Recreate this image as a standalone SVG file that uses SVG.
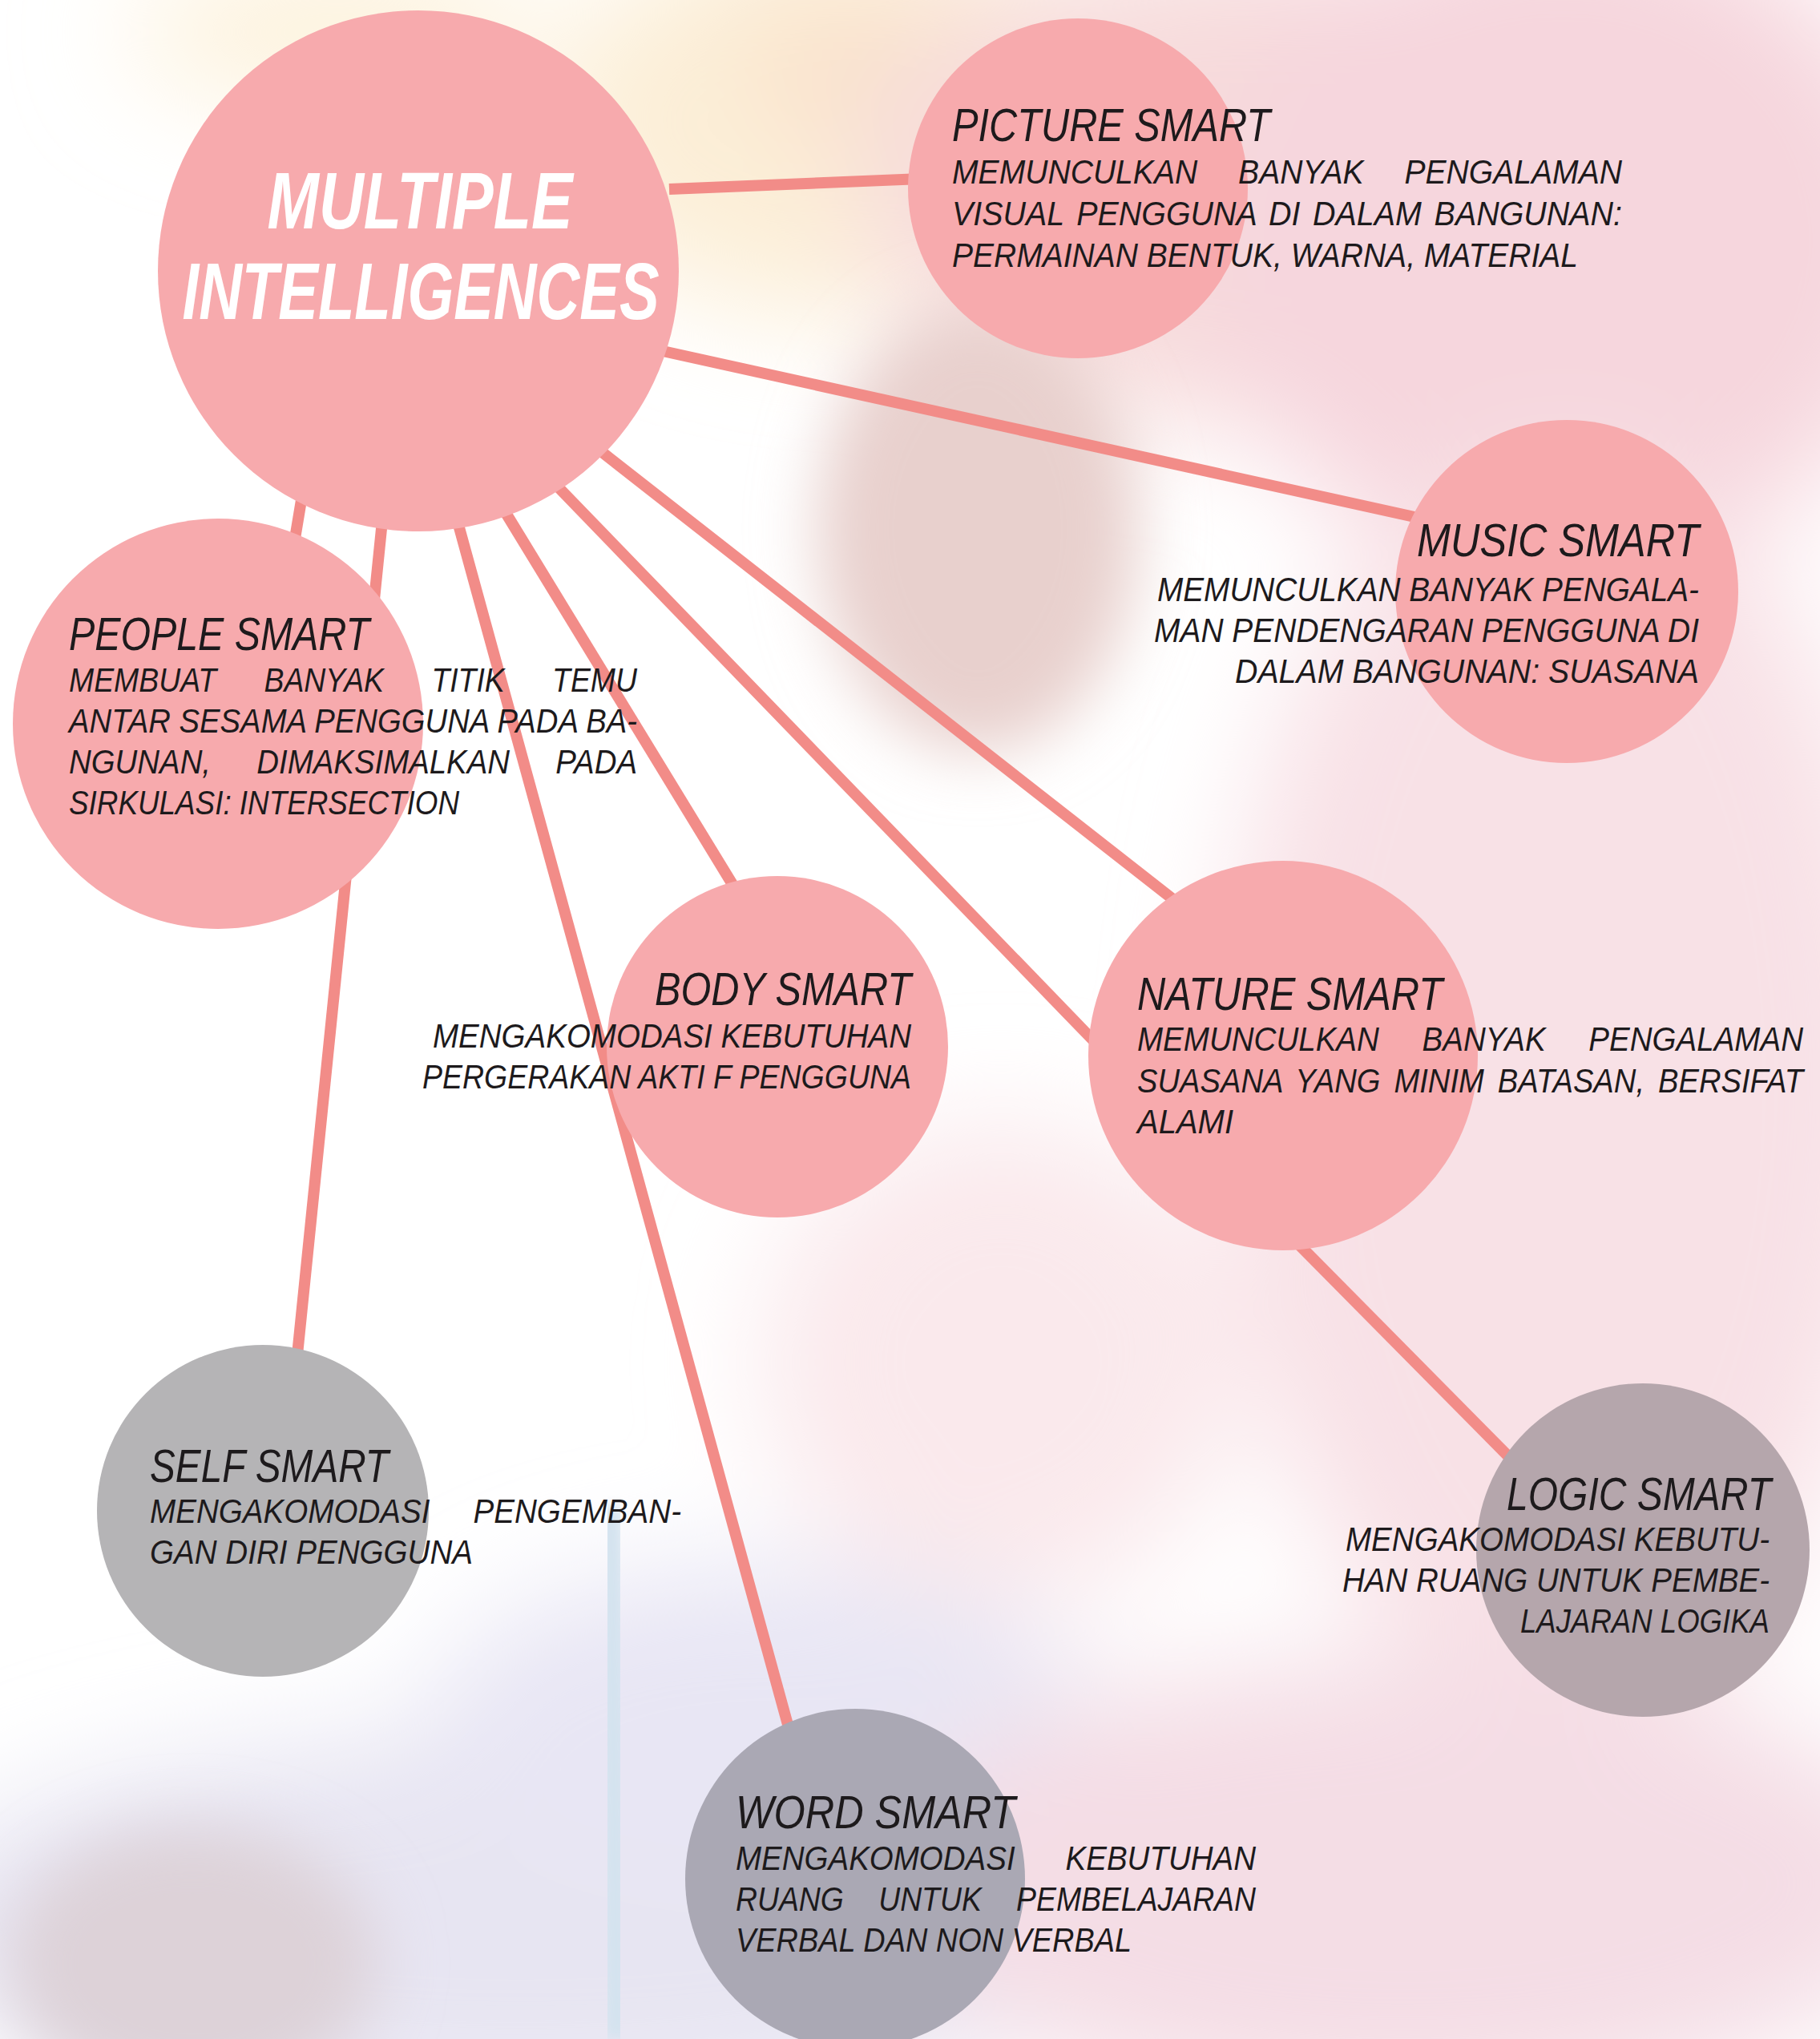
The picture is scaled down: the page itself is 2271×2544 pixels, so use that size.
<svg xmlns="http://www.w3.org/2000/svg" width="2271" height="2544" viewBox="0 0 2271 2544">
<defs>
<filter id="blur" x="-50%" y="-50%" width="200%" height="200%"><feGaussianBlur stdDeviation="70"/></filter>
<filter id="blurM" x="-50%" y="-50%" width="200%" height="200%"><feGaussianBlur stdDeviation="40"/></filter>
<filter id="blurS" x="-50%" y="-50%" width="200%" height="200%"><feGaussianBlur stdDeviation="8"/></filter>
<style>
.link{stroke:#f28c88;stroke-width:14;stroke-linecap:butt;fill:none}
.pink{fill:#f7aaad}
.t{font-family:"Liberation Sans",Arial,sans-serif;font-style:italic;fill:#1d1a1c}
.h{font-size:58px}
.b{font-size:42px}
.r{text-anchor:end}
.m{font-family:"Liberation Sans",Arial,sans-serif;font-style:italic;font-weight:bold;font-size:100px;fill:#ffffff;text-anchor:middle}
</style>
</defs>
<rect width="2271" height="2544" fill="#ffffff"/>
<g id="background">
<g filter="url(#blur)">
<ellipse cx="1060" cy="150" rx="380" ry="250" fill="#fcefd8"/>
<ellipse cx="1090" cy="90" rx="170" ry="100" fill="#f9e2cc"/>
<ellipse cx="420" cy="40" rx="260" ry="90" fill="#fdf2dc"/>
<ellipse cx="1550" cy="230" rx="480" ry="300" fill="#f7dcdc"/>
<ellipse cx="1950" cy="300" rx="450" ry="420" fill="#f6d6dd"/>
<ellipse cx="1950" cy="1350" rx="420" ry="800" fill="#f8e1e6"/>
<ellipse cx="1250" cy="1700" rx="300" ry="300" fill="#fae9ec"/>
<ellipse cx="650" cy="2400" rx="780" ry="240" fill="#e7e5f2"/>
<ellipse cx="950" cy="2150" rx="420" ry="200" fill="#e8e6f4"/>
<ellipse cx="1750" cy="2350" rx="650" ry="280" fill="#f4dde5"/>
</g>
<g filter="url(#blurM)">
<ellipse cx="1220" cy="660" rx="200" ry="280" fill="#e8d0cd"/>
<ellipse cx="240" cy="2450" rx="230" ry="170" fill="#ddd2d8"/>
</g>
<path d="M762 1880 L770 2544" stroke="#d4e3ef" stroke-width="32" fill="none" filter="url(#blurS)"/>
</g>
<g id="connectors">
<line class="link" x1="835" y1="236" x2="1150" y2="223"/>
<line class="link" x1="827" y1="438" x2="1765" y2="645"/>
<line class="link" x1="380" y1="600" x2="365" y2="690"/>
<line class="link" x1="478" y1="640" x2="370" y2="1700"/>
<line class="link" x1="568" y1="640" x2="988" y2="2170"/>
<line class="link" x1="625" y1="630" x2="915" y2="1105"/>
<line class="link" x1="689" y1="600" x2="1368" y2="1302"/>
<line class="link" x1="746" y1="560" x2="1465" y2="1123"/>
<line class="link" x1="1618" y1="1550" x2="1895" y2="1830"/>
</g>
<g id="node-main">
<circle class="pink" cx="522" cy="338" r="325"/>
<text class="m" x="524" y="285" textLength="381" lengthAdjust="spacingAndGlyphs">MULTIPLE</text>
<text class="m" x="525" y="398" textLength="595" lengthAdjust="spacingAndGlyphs">INTELLIGENCES</text>
</g>
<g id="node-picture">
<circle class="pink" cx="1345" cy="235" r="212"/>
<text class="t h" x="1188" y="176" textLength="397" lengthAdjust="spacingAndGlyphs">PICTURE SMART</text>
<text class="t b" x="1188" y="229" word-spacing="43" textLength="836" lengthAdjust="spacingAndGlyphs">MEMUNCULKAN BANYAK PENGALAMAN</text>
<text class="t b" x="1188" y="281" word-spacing="5" textLength="836" lengthAdjust="spacingAndGlyphs">VISUAL PENGGUNA DI DALAM BANGUNAN:</text>
<text class="t b" x="1188" y="333" textLength="781" lengthAdjust="spacingAndGlyphs">PERMAINAN BENTUK, WARNA, MATERIAL</text>
</g>
<g id="node-music">
<circle class="pink" cx="1955" cy="738" r="214"/>
<text class="t h r" x="2120" y="694" textLength="352" lengthAdjust="spacingAndGlyphs">MUSIC SMART</text>
<text class="t b r" x="2120" y="750" textLength="676" lengthAdjust="spacingAndGlyphs">MEMUNCULKAN BANYAK PENGALA-</text>
<text class="t b r" x="2120" y="801" textLength="680" lengthAdjust="spacingAndGlyphs">MAN PENDENGARAN PENGGUNA DI</text>
<text class="t b r" x="2120" y="852" textLength="579" lengthAdjust="spacingAndGlyphs">DALAM BANGUNAN: SUASANA</text>
</g>
<g id="node-people">
<circle class="pink" cx="272" cy="903" r="256"/>
<text class="t h" x="86" y="811" textLength="375" lengthAdjust="spacingAndGlyphs">PEOPLE SMART</text>
<text class="t b" x="86" y="863" word-spacing="55" textLength="709" lengthAdjust="spacingAndGlyphs">MEMBUAT BANYAK TITIK TEMU</text>
<text class="t b" x="86" y="914" textLength="709" lengthAdjust="spacingAndGlyphs">ANTAR SESAMA PENGGUNA PADA BA-</text>
<text class="t b" x="86" y="965" word-spacing="51" textLength="709" lengthAdjust="spacingAndGlyphs">NGUNAN, DIMAKSIMALKAN PADA</text>
<text class="t b" x="86" y="1016" textLength="487" lengthAdjust="spacingAndGlyphs">SIRKULASI: INTERSECTION</text>
</g>
<g id="node-body">
<circle class="pink" cx="970" cy="1306" r="213"/>
<text class="t h r" x="1137" y="1254" textLength="320" lengthAdjust="spacingAndGlyphs">BODY SMART</text>
<text class="t b r" x="1137" y="1307" textLength="597" lengthAdjust="spacingAndGlyphs">MENGAKOMODASI KEBUTUHAN</text>
<text class="t b r" x="1137" y="1358" textLength="610" lengthAdjust="spacingAndGlyphs">PERGERAKAN AKTI F PENGGUNA</text>
</g>
<g id="node-nature">
<circle class="pink" cx="1601" cy="1317" r="243"/>
<text class="t h" x="1419" y="1260" textLength="381" lengthAdjust="spacingAndGlyphs">NATURE SMART</text>
<text class="t" font-size="39" transform="translate(1419 1311) scale(1 1.0769)" x="0" y="0" word-spacing="43.4" textLength="831" lengthAdjust="spacingAndGlyphs">MEMUNCULKAN BANYAK PENGALAMAN</text>
<text class="t" font-size="38" transform="translate(1419 1363) scale(1 1.1053)" x="0" y="0" word-spacing="6.4" textLength="831" lengthAdjust="spacingAndGlyphs">SUASANA YANG MINIM BATASAN, BERSIFAT</text>
<text class="t b" x="1419" y="1414" textLength="120" lengthAdjust="spacingAndGlyphs">ALAMI</text>
</g>
<g id="node-self">
<circle cx="328" cy="1885" r="207" fill="#b5b4b6"/>
<text class="t h" x="187" y="1849" textLength="298" lengthAdjust="spacingAndGlyphs">SELF SMART</text>
<text class="t b" x="187" y="1900" word-spacing="47" textLength="663" lengthAdjust="spacingAndGlyphs">MENGAKOMODASI PENGEMBAN-</text>
<text class="t b" x="187" y="1951" textLength="403" lengthAdjust="spacingAndGlyphs">GAN DIRI PENGGUNA</text>
</g>
<g id="node-logic">
<circle cx="2050" cy="1934" r="208" fill="#b5a6ac"/>
<text class="t r" font-size="56" transform="translate(2210 1884) scale(1 1.0357)" x="0" y="0" textLength="330" lengthAdjust="spacingAndGlyphs">LOGIC SMART</text>
<text class="t b r" x="2208" y="1935" textLength="529" lengthAdjust="spacingAndGlyphs">MENGAKOMODASI KEBUTU-</text>
<text class="t b r" x="2208" y="1986" textLength="533" lengthAdjust="spacingAndGlyphs">HAN RUANG UNTUK PEMBE-</text>
<text class="t b r" x="2208" y="2037" textLength="311" lengthAdjust="spacingAndGlyphs">LAJARAN LOGIKA</text>
</g>
<g id="node-word">
<circle cx="1067" cy="2344" r="212" fill="#aaa8b4"/>
<text class="t h" x="918" y="2281" textLength="349" lengthAdjust="spacingAndGlyphs">WORD SMART</text>
<text class="t b" x="918" y="2333" word-spacing="57" textLength="649" lengthAdjust="spacingAndGlyphs">MENGAKOMODASI KEBUTUHAN</text>
<text class="t b" x="918" y="2384" word-spacing="37" textLength="649" lengthAdjust="spacingAndGlyphs">RUANG UNTUK PEMBELAJARAN</text>
<text class="t b" x="918" y="2435" textLength="494" lengthAdjust="spacingAndGlyphs">VERBAL DAN NON VERBAL</text>
</g>
</svg>
